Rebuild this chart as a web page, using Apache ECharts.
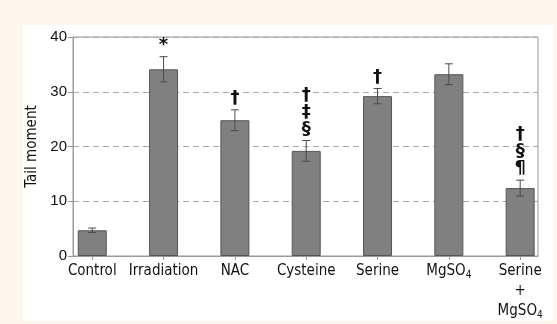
<!DOCTYPE html>
<html>
<head>
<meta charset="utf-8">
<script src="https://cdn.jsdelivr.net/npm/echarts@6/dist/echarts.min.js"></script>
<style>
html,body{margin:0;padding:0;background:#fdf6ec;}
#c{width:557px;height:324px;}
</style>
</head>
<body>
<div id="c"></div>
<script>
var categories = ['Control', 'Irradiation', 'NAC', 'Cysteine', 'Serine', 'MgSO4', 'Serine\n+\nMgSO4'];
var meanValues = [4.7, 34.1, 24.8, 19.2, 29.2, 33.2, 12.4];
var errorValues = [0.4, 2.3, 1.9, 1.9, 1.4, 1.9, 1.45];
var annotations = ['', '*', '†', '†\n‡\n§', '†', '', '†\n§\n¶'];
var yTicks = [0, 10, 20, 30, 40];

var FONT = '"DejaVu Sans Condensed", "Liberation Sans Narrow", "Liberation Sans", sans-serif';
var chart = echarts.init(document.getElementById('c'), null, {renderer: 'canvas'});

var positions = categories.map(function (_, i) { return i; });
var barData = meanValues.map(function (v, i) { return [i, v]; });
var errData = meanValues.map(function (v, i) { return [i, v - errorValues[i], v + errorValues[i]]; });

function fmtLabel(val) {
  var name = categories[Math.round(val)] || '';
  return name.split('\n').map(function (line) {
    return line.replace('SO4', 'SO{sub|4}');
  }).join('\n');
}

chart.setOption({
  backgroundColor: '#fdf6ec',
  animation: false,
  graphic: [{
    type: 'rect', left: 23, top: 25, z: -10,
    shape: {width: 530, height: 296},
    style: {fill: '#ffffff'}
  }],
  grid: {left: 73, right: 19, top: 37, bottom: 68, show: true, borderColor: '#9a9a9a', borderWidth: 1, backgroundColor: 'transparent'},
  xAxis: {
    type: 'value', min: -0.27, max: 6.25,
    axisLine: {show: true, onZero: false, lineStyle: {color: '#9a9a9a', width: 1}},
    axisTick: {show: true, customValues: positions, length: 4, lineStyle: {color: '#9a9a9a'}},
    splitLine: {show: false},
    axisLabel: {
      customValues: positions, margin: 5, color: '#111', fontFamily: FONT, fontSize: 15,
      lineHeight: 20, formatter: fmtLabel,
      rich: {sub: {fontSize: 10, fontFamily: FONT, color: '#111', padding: [8, 0, 0, 0]}}
    }
  },
  yAxis: {
    type: 'value', min: 0, max: 40, interval: 10,
    name: 'Tail moment', nameLocation: 'middle', nameGap: 27, nameRotate: 90,
    nameTextStyle: {fontFamily: FONT, fontSize: 15, color: '#111'},
    axisLine: {show: true, onZero: false, lineStyle: {color: '#9a9a9a', width: 1}},
    axisTick: {show: true, length: 5, lineStyle: {color: '#9a9a9a'}},
    axisLabel: {color: '#111', fontFamily: '"Liberation Sans", sans-serif', fontSize: 15, margin: 6,
      customValues: yTicks},
    splitLine: {show: true, lineStyle: {color: '#aaaaaa', type: [6, 4], width: 1}}
  },
  series: [{
    type: 'bar', data: barData, barWidth: 29,
    itemStyle: {color: '#808080', borderColor: '#555555', borderWidth: 1}
  }, {
    type: 'custom', data: errData, z: 5,
    renderItem: function (params, api) {
      var x = api.value(0);
      var lo = api.coord([x, api.value(1)]);
      var hi = api.coord([x, api.value(2)]);
      var cap = 4;
      var st = {stroke: '#4a4a4a', lineWidth: 1};
      var children = [
        {type: 'line', shape: {x1: lo[0], y1: lo[1], x2: hi[0], y2: hi[1]}, style: st},
        {type: 'line', shape: {x1: lo[0] - cap, y1: lo[1], x2: lo[0] + cap, y2: lo[1]}, style: st},
        {type: 'line', shape: {x1: hi[0] - cap, y1: hi[1], x2: hi[0] + cap, y2: hi[1]}, style: st}
      ];
      var txt = annotations[params.dataIndex];
      if (txt) {
        children.push({type: 'text', x: hi[0], y: hi[1] - 3,
          style: {text: txt, textAlign: 'center', textVerticalAlign: 'bottom',
            fontFamily: '"DejaVu Sans", sans-serif', fontSize: 18, lineHeight: 17, fontWeight: 'bold', fill: '#111'}});
      }
      return {type: 'group', children: children};
    }
  }]
});
</script>
</body>
</html>
